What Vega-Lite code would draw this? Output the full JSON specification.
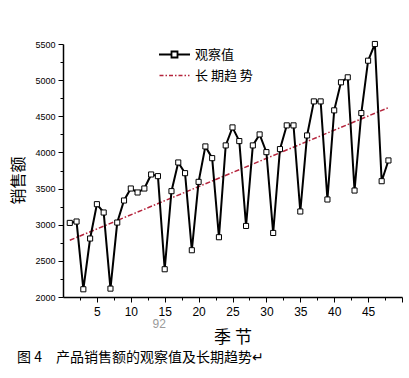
{
  "$schema": "https://vega.github.io/schema/vega-lite/v6.json",
  "width": 339,
  "height": 253,
  "autosize": "none",
  "padding": {"left": 63, "top": 44, "right": 7, "bottom": 81},
  "background": "white",
  "datasets": {
    "obs": [
      {"t": 1, "v": 3025}, {"t": 2, "v": 3044}, {"t": 3, "v": 2107}, {"t": 4, "v": 2809},
      {"t": 5, "v": 3284}, {"t": 6, "v": 3169}, {"t": 7, "v": 2116}, {"t": 8, "v": 3030},
      {"t": 9, "v": 3335}, {"t": 10, "v": 3501}, {"t": 11, "v": 3446}, {"t": 12, "v": 3501},
      {"t": 13, "v": 3695}, {"t": 14, "v": 3672}, {"t": 15, "v": 2384}, {"t": 16, "v": 3464},
      {"t": 17, "v": 3861}, {"t": 18, "v": 3713}, {"t": 19, "v": 2647}, {"t": 20, "v": 3593},
      {"t": 21, "v": 4083}, {"t": 22, "v": 3921}, {"t": 23, "v": 2827}, {"t": 24, "v": 4097},
      {"t": 25, "v": 4346}, {"t": 26, "v": 4157}, {"t": 27, "v": 2983}, {"t": 28, "v": 4097},
      {"t": 29, "v": 4249}, {"t": 30, "v": 4004}, {"t": 31, "v": 2886}, {"t": 32, "v": 4046},
      {"t": 33, "v": 4374}, {"t": 34, "v": 4374}, {"t": 35, "v": 3183}, {"t": 36, "v": 4235},
      {"t": 37, "v": 4706}, {"t": 38, "v": 4706}, {"t": 39, "v": 3349}, {"t": 40, "v": 4582},
      {"t": 41, "v": 4970}, {"t": 42, "v": 5039}, {"t": 43, "v": 3473}, {"t": 44, "v": 4544},
      {"t": 45, "v": 5269}, {"t": 46, "v": 5500}, {"t": 47, "v": 3602}, {"t": 48, "v": 3889}
    ],
    "trend": [{"t": 1, "v": 2785}, {"t": 48, "v": 4620}],
    "note": [{"label": "92"}]
  },
  "layer": [
    {
      "data": {"name": "trend"},
      "transform": [{"calculate": "'长 期趋 势'", "as": "s"}],
      "mark": {"type": "line", "strokeWidth": 1.5, "strokeDash": [5, 2, 1.5, 2]},
      "encoding": {
        "x": {"field": "t", "type": "quantitative"},
        "y": {"field": "v", "type": "quantitative"},
        "color": {
          "field": "s", "type": "nominal",
          "legend": {
            "encode": {
              "symbols": {
                "update": {
                  "shape": {"signal": "datum.value === '观察值' ? 'M-3.1,0H-0.6M0.6,0H3.1M-0.6,-0.6H0.6V0.6H-0.6Z' : 'M-3,0H3'"},
                  "strokeDash": {"signal": "datum.value === '观察值' ? [] : [4, 2, 1.5, 2]"},
                  "strokeWidth": {"signal": "datum.value === '观察值' ? 1.8 : 1.5"}
                }
              }
            }
          }
        }
      }
    },
    {
      "data": {"name": "obs"},
      "transform": [{"calculate": "'观察值'", "as": "s"}],
      "mark": {"type": "line", "strokeWidth": 2},
      "encoding": {
        "x": {"field": "t", "type": "quantitative"},
        "y": {"field": "v", "type": "quantitative"},
        "color": {"field": "s", "type": "nominal"}
      }
    },
    {
      "data": {"name": "obs"},
      "mark": {"type": "point", "shape": "square", "filled": true, "fill": "white", "stroke": "black", "strokeWidth": 1, "size": 26, "opacity": 1},
      "encoding": {
        "x": {"field": "t", "type": "quantitative"},
        "y": {"field": "v", "type": "quantitative"}
      }
    },
    {
      "data": {"name": "note"},
      "mark": {"type": "text", "fontSize": 12, "color": "#9a9a9a", "font": "Liberation Sans", "baseline": "middle"},
      "encoding": {
        "x": {"datum": 14.2, "type": "quantitative"},
        "y": {"datum": 1630, "type": "quantitative"},
        "text": {"field": "label"}
      }
    }
  ],
  "encoding": {
    "x": {
      "type": "quantitative",
      "scale": {"domain": [0, 50], "nice": false, "zero": false},
      "axis": {
        "values": [2.5, 5, 7.5, 10, 12.5, 15, 17.5, 20, 22.5, 25, 27.5, 30, 32.5, 35, 37.5, 40, 42.5, 45, 47.5, 50],
        "labelExpr": "datum.value % 5 === 0 && datum.value < 50 ? datum.label : ''",
        "tickSize": {"condition": {"test": "datum.value % 5 === 0", "value": 5}, "value": 3},
        "title": "季   节",
        "titleFont": "Noto Sans CJK SC",
        "titleFontSize": 17,
        "titleFontWeight": "normal",
        "titlePadding": 12,
        "labelFontSize": 12,
        "labelPadding": 4,
        "labelFlush": false
      }
    },
    "y": {
      "type": "quantitative",
      "scale": {"domain": [2000, 5500], "nice": false, "zero": false},
      "axis": {
        "values": [2000, 2250, 2500, 2750, 3000, 3250, 3500, 3750, 4000, 4250, 4500, 4750, 5000, 5250, 5500],
        "labelExpr": "datum.value % 500 === 0 ? datum.value : ''",
        "tickSize": {"condition": {"test": "datum.value % 500 === 0", "value": 5}, "value": 3},
        "title": "销售额",
        "titleFont": "Noto Sans CJK SC",
        "titleFontSize": 16,
        "titleFontWeight": "normal",
        "titlePadding": 8,
        "titleY": 136,
        "labelFontSize": 9,
        "labelPadding": 3,
        "labelFlush": false
      }
    }
  },
  "title": {
    "text": "图 4　产品销售额的观察值及长期趋势↵",
    "orient": "bottom",
    "anchor": "start",
    "frame": "group",
    "dx": -46,
    "offset": 6,
    "fontSize": 14,
    "fontWeight": "normal",
    "font": "Noto Sans CJK SC",
    "color": "black"
  },
  "config": {
    "view": {"stroke": null},
    "axis": {
      "grid": false,
      "domainColor": "black",
      "domainWidth": 1.5,
      "tickColor": "black",
      "tickWidth": 1,
      "labelColor": "black",
      "titleColor": "black",
      "labelFont": "Liberation Sans"
    },
    "range": {"category": ["black", "#b5243c"]},
    "legend": {
      "orient": "none",
      "legendX": 105,
      "legendY": 4,
      "title": null,
      "labelFont": "Noto Sans CJK SC",
      "labelFontSize": 13,
      "labelColor": "black",
      "symbolSize": 100,
      "labelOffset": 14,
      "rowPadding": 7
    }
  }
}
